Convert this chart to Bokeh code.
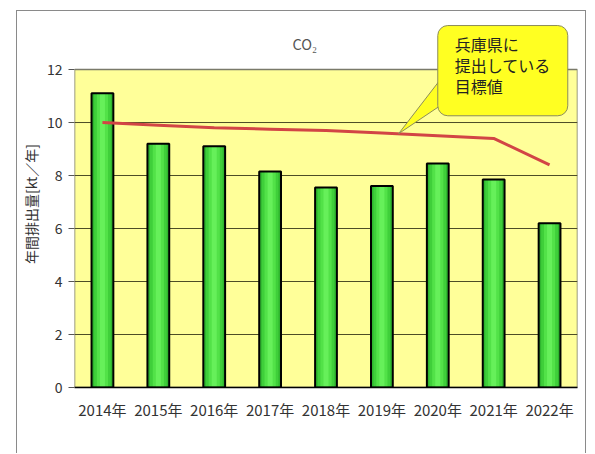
from bokeh.plotting import figure
from bokeh.models import Range1d, FixedTicker, Label
from bokeh.embed import file_html
from bokeh.resources import INLINE

# ---- data ----
years = ["2014年", "2015年", "2016年", "2017年", "2018年", "2019年", "2020年", "2021年", "2022年"]
emissions = [11.1, 9.2, 9.1, 8.15, 7.55, 7.6, 8.45, 7.85, 6.2]
targets = [10.0, 9.9, 9.8, 9.75, 9.7, 9.6, 9.5, 9.4, 8.4]
y_ticks = [0, 2, 4, 6, 8, 10, 12]
title_text = "CO₂"
y_label = "年間排出量[kt／年]"
callout_text = "兵庫県に\n提出している\n目標値"

FONT = "Noto Sans CJK JP"
Y_MAX = max(y_ticks)
Y_TOP = 13.85  # headroom above the plot area for title and callout
N = len(years)

p = figure(x_range=years, y_range=Range1d(0, Y_TOP), width=570, height=443,
           output_backend="svg", toolbar_location=None,
           min_border_left=56, min_border_right=10, min_border_top=9, min_border_bottom=67)
p.margin = (10, 0, 0, 16)
p.styles = {"border-left": "1px solid #8a8a8a", "border-top": "1px solid #8a8a8a",
            "border-right": "1px solid #8a8a8a"}

p.background_fill_color = "white"
p.border_fill_color = "white"
p.outline_line_color = None
p.xgrid.grid_line_color = None
p.ygrid.grid_line_color = None

# plot area background
p.quad(left=[0], right=[N], bottom=[0], top=[Y_MAX], fill_color="#ffff99",
       line_color="#7a7a6a", line_width=1.5)
# horizontal gridlines
grid_y = [t for t in y_ticks if 0 < t < Y_MAX]
p.segment(x0=[0] * len(grid_y), x1=[N] * len(grid_y), y0=grid_y, y1=grid_y,
          line_color="#4d4d26", line_width=1)

# bars with pseudo gradient
p.vbar(x=years, top=emissions, width=0.39, fill_color="#2fb52f", line_color=None)
p.vbar(x=years, top=emissions, width=0.30, fill_color="#3fcf3a", line_color=None)
p.vbar(x=years, top=emissions, width=0.20, fill_color="#52e248", line_color=None)
p.vbar(x=years, top=emissions, width=0.09, fill_color="#66f05a", line_color=None)
p.vbar(x=years, top=emissions, width=0.39, fill_color=None, line_color="black", line_width=2)

# target line
p.line(x=years, y=targets, line_color="#d24545", line_width=3)

# axes
p.yaxis.ticker = FixedTicker(ticks=y_ticks)
p.yaxis.major_tick_out = 6
p.yaxis.major_tick_in = 0
p.yaxis.major_tick_line_color = "#555555"
p.yaxis.minor_tick_line_color = None
p.yaxis.major_label_standoff = 6
p.yaxis.major_label_text_font_size = "14px"
p.yaxis.major_label_text_color = "#333333"
p.yaxis.major_label_text_font = FONT
p.yaxis.axis_line_color = None
p.yaxis.axis_label = y_label
p.yaxis.axis_label_text_font = FONT
p.yaxis.axis_label_text_font_size = "14px"
p.yaxis.axis_label_text_font_style = "normal"
p.yaxis.axis_label_text_color = "#333333"
p.yaxis.axis_label_standoff = 3

p.xaxis.major_tick_line_color = None
p.xaxis.major_tick_out = 0
p.xaxis.major_tick_in = 0
p.xaxis.axis_line_color = "black"
p.xaxis.axis_line_width = 1.5
p.xaxis.major_label_standoff = 11
p.xaxis.major_label_text_font = FONT
p.xaxis.major_label_text_font_size = "15px"
p.xaxis.major_label_text_color = "#333333"

# title
p.add_layout(Label(x=3.9, y=13.0, text=title_text, text_font=FONT, text_font_size="14.5px",
                   text_color="#555555", text_baseline="middle", text_align="left"))

# callout pointer
p.patch(x=[5.8, 6.56, 6.66], y=[9.58, 11.66, 10.8], fill_color="#ffff22",
        line_color="#8c8c5a", line_width=1)

# callout box (anchor is the box's top-left corner)
p.add_layout(Label(x=6.5, y=13.66, text=callout_text, text_font=FONT, text_font_size="16px",
                   text_color="#222222", text_baseline="top", text_align="left",
                   text_line_height=0.88,
                   background_fill_color="#ffff22", border_line_color="#8c8c5a",
                   border_line_width=1, border_radius=10, padding=(17, 17, 6, 18)))

open("out.html", "w").write(file_html(p, INLINE))
